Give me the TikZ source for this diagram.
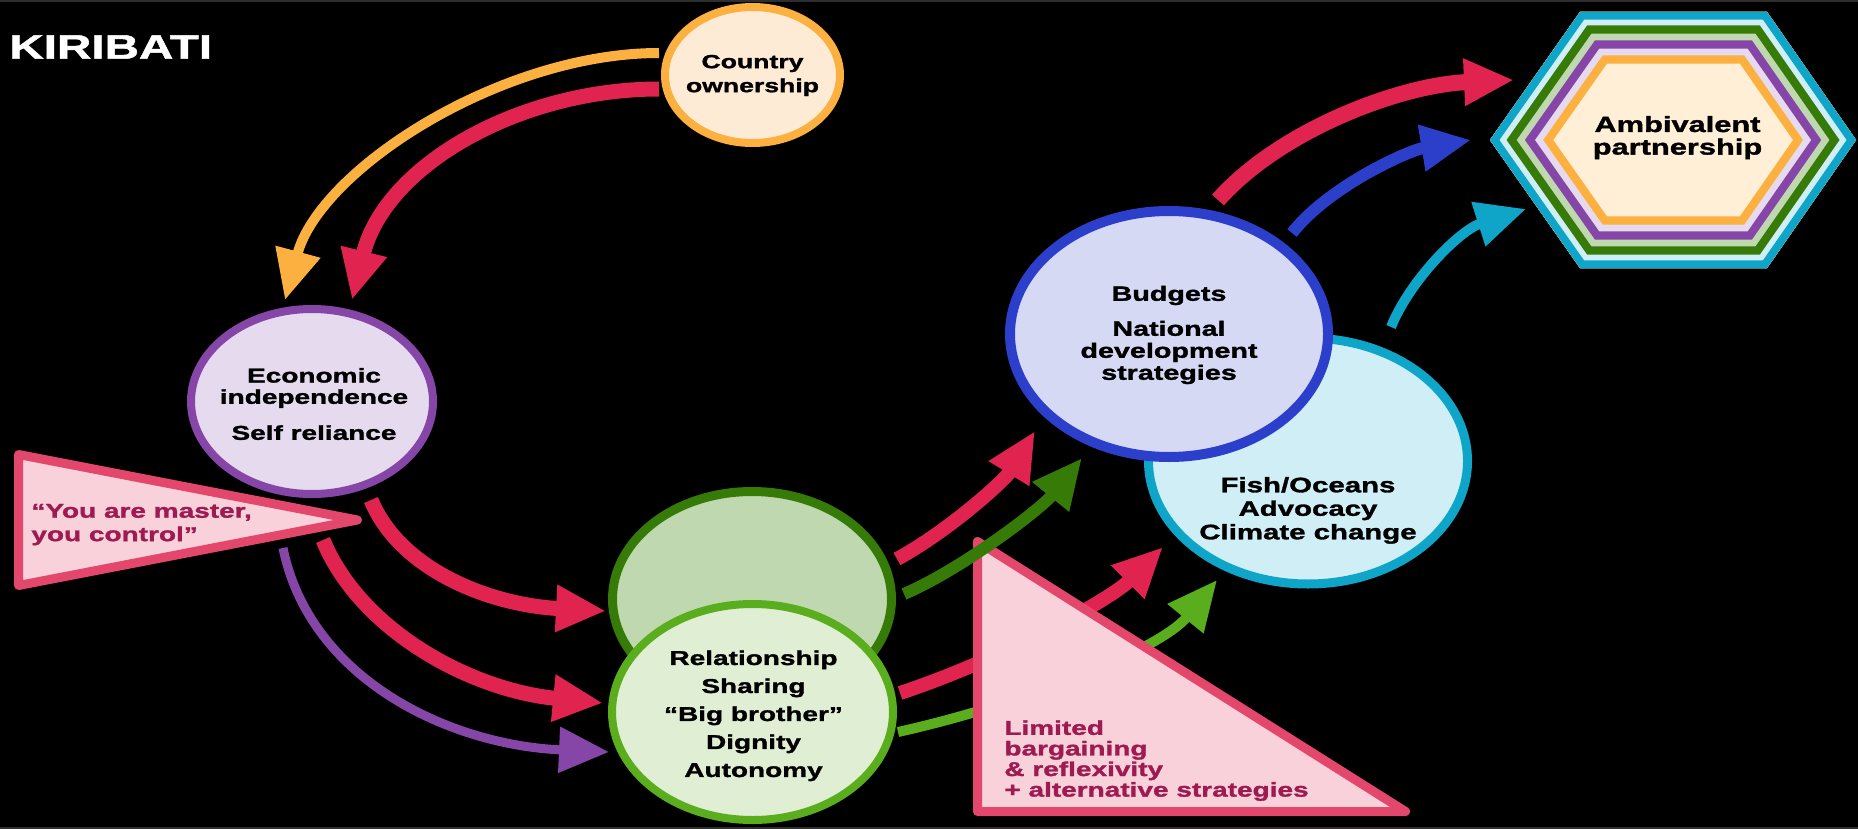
\documentclass[tikz,border=0pt]{standalone}
\usepackage{fontspec}
\setmainfont{Liberation Sans}[FakeStretch=1.4, BoldFeatures={FakeBold=1.5}]
\usetikzlibrary{arrows.meta,shapes.geometric}

\definecolor{ownorange}{HTML}{FBB040}
\definecolor{owncream}{HTML}{FDEBD5}
\definecolor{hexcream}{HTML}{FEEFD6}
\definecolor{crimson}{HTML}{E0234F}
\definecolor{ecopurple}{HTML}{8646A8}
\definecolor{ecolav}{HTML}{E6DAEE}
\definecolor{trifill}{HTML}{F8D1DA}
\definecolor{triline}{HTML}{E3476B}
\definecolor{tritext}{HTML}{9E1B52}
\definecolor{dkgreen}{HTML}{367B07}
\definecolor{dkgreenfill}{HTML}{C0D8AF}
\definecolor{ltgreen}{HTML}{5AAE1D}
\definecolor{ltgreenfill}{HTML}{E0EFD3}
\definecolor{budblue}{HTML}{2B3FCB}
\definecolor{budfill}{HTML}{D5D9F3}
\definecolor{fishcyan}{HTML}{0EA5C9}
\definecolor{fishfill}{HTML}{CFEEF5}
\definecolor{edgegray}{HTML}{2E2E2E}

\begin{document}
\begin{tikzpicture}[x=0.5pt,y=-0.5pt,
    blob/.style={ellipse, draw, inner sep=0pt},
    txt/.style={inner sep=0pt, align=center},
    arr/.style={-{Triangle[length=25pt,width=22pt]}},
    tri/.style={fill=trifill, draw=triline, line width=4.5pt, line join=round}]

  \useasboundingbox (0,0) rectangle (1858,829);
  \fill[black] (0,0) rectangle (1858,829);
  \draw[edgegray, line width=1pt] (0,1) -- (1858,1) (0,828) -- (1858,828);

  % arrow ends
  \coordinate (own-a) at (659,53);   \coordinate (econ-a) at (285,300);
  \coordinate (own-b) at (659,89);   \coordinate (econ-b) at (352,300);
  \coordinate (econ-c) at (371,500); \coordinate (dk-c) at (606,611);
  \coordinate (mas-d) at (323,540);  \coordinate (lt-d) at (603,703);
  \coordinate (mas-e) at (283,548);  \coordinate (lt-e) at (609,752);
  \coordinate (dk-f) at (897,559);   \coordinate (bud-f) at (1035,431);
  \coordinate (dk-g) at (904,594);   \coordinate (bud-g) at (1082,458);
  \coordinate (lt-h) at (900,693);   \coordinate (fish-h) at (1163,547);
  \coordinate (lt-i) at (898,732);   \coordinate (fish-i) at (1217,580);
  \coordinate (bud-j) at (1218,200); \coordinate (hex-j) at (1514,80);
  \coordinate (bud-k) at (1292,233); \coordinate (hex-k) at (1471,140);
  \coordinate (fish-l) at (1391,327);\coordinate (hex-l) at (1526,209);

  \draw[arr, ownorange, line width=5pt] (own-a) .. controls (500,53) and (320,170) .. (econ-a);
  \draw[arr, crimson, line width=7.5pt] (own-b) .. controls (520,89) and (385,165) .. (econ-b);

  \begin{scope}[every node/.style={blob}]
    \node[draw=ownorange, fill=owncream, line width=4pt, minimum width=87.5pt, minimum height=68pt] (own) at (752.5,75) {};
    \node[draw=ecopurple, fill=ecolav, line width=4pt, minimum width=121pt, minimum height=92.5pt] (econ) at (312,401.5) {};
  \end{scope}

  \draw[tri] (18.5,454.5) -- (18.5,585.5) -- (357.5,520) -- cycle;

  \draw[arr, crimson, line width=7.5pt] (econ-c) .. controls (400,570) and (490,605) .. (dk-c);
  \draw[arr, crimson, line width=7.5pt] (mas-d) .. controls (360,630) and (470,690) .. (lt-d);
  \draw[arr, ecopurple, line width=4.5pt] (mas-e) .. controls (310,680) and (450,745) .. (lt-e);

  \begin{scope}[every node/.style={blob}]
    \node[draw=dkgreen, fill=dkgreenfill, line width=4.5pt, minimum width=139.5pt, minimum height=107.5pt] (dk) at (752,599) {};
    \node[draw=ltgreen, fill=ltgreenfill, line width=4pt, minimum width=140.5pt, minimum height=108pt] (lt) at (752.5,712) {};
    \node[draw=fishcyan, fill=fishfill, line width=4.5pt, minimum width=159.5pt, minimum height=123pt] (fish) at (1308,461) {};
    \node[draw=budblue, fill=budfill, line width=5pt, minimum width=159pt, minimum height=123pt] (bud) at (1169,334) {};
  \end{scope}

  \draw[arr, crimson, line width=7pt] (lt-h) .. controls (1000,660) and (1110,600) .. (fish-h);
  \draw[arr, ltgreen, line width=5pt] (lt-i) .. controls (1020,705) and (1160,650) .. (fish-i);

  \draw[tri] (977.5,541.5) -- (977.5,811.5) -- (1405.5,811.5) -- cycle;

  \draw[arr, crimson, line width=7pt] (dk-f) .. controls (950,530) and (1005,480) .. (bud-f);
  \draw[arr, dkgreen, line width=6pt] (dk-g) .. controls (960,570) and (1040,510) .. (bud-g);

  % nested hexagon
  \coordinate (h1) at (1490,140); \coordinate (h2) at (1580,12);  \coordinate (h3) at (1767,12);
  \coordinate (h4) at (1856,140); \coordinate (h5) at (1767,268); \coordinate (h6) at (1580,268);
  \begin{scope}
    \clip (h1) -- (h2) -- (h3) -- (h4) -- (h5) -- (h6) -- cycle;
    \fill[hexcream] (1480,0) rectangle (1858,280);
    \foreach \col/\w in {ownorange/51.7, ecolav/43.4, ecopurple/36.7, dkgreenfill/28.4,
                         dkgreen/21.7, fishfill/13.4, fishcyan/7.7}
      \draw[\col, line width=\w pt, line join=miter] (h1) -- (h2) -- (h3) -- (h4) -- (h5) -- (h6) -- cycle;
  \end{scope}

  \draw[arr, crimson, line width=8pt] (bud-j) .. controls (1280,130) and (1400,85) .. (hex-j);
  \draw[arr, budblue, line width=6pt] (bud-k) .. controls (1330,185) and (1410,150) .. (hex-k);
  \draw[arr, fishcyan, line width=5pt] (fish-l) .. controls (1410,280) and (1460,230) .. (hex-l);

  % texts
  \begin{scope}[every node/.style={txt}]
    \node[anchor=west, text=white, font=\fontsize{17}{20}\selectfont\bfseries] (title) at (9,47) {KIRIBATI};
    \node[font=\fontsize{9.5}{12}\selectfont\bfseries] (own-txt) at (752.5,75.5) {Country\\ownership};
    \node[font=\fontsize{10}{10.65}\selectfont\bfseries] (econ-txt) at (314,404) {Economic\\independence\\[7.35pt]Self reliance};
    \node[font=\fontsize{10}{14}\selectfont\bfseries] (lt-txt) at (753.5,715.8) {Relationship\\Sharing\\“Big brother”\\Dignity\\Autonomy};
    \node[font=\fontsize{10.25}{11}\selectfont\bfseries] (bud-txt) at (1169,335) {Budgets\\[6.5pt]National\\development\\strategies};
    \node[font=\fontsize{10.5}{11.75}\selectfont\bfseries] (fish-txt) at (1308,510.4) {Fish/Oceans\\Advocacy\\Climate change};
    \node[font=\fontsize{11}{11.3}\selectfont\bfseries] (hex-txt) at (1677.5,137.6) {Ambivalent\\partnership};
    \node[anchor=west, align=left, text=tritext, font=\fontsize{10}{11.7}\selectfont\bfseries] (mas-txt) at (31,524.6) {“You are master,\\you control”};
    \node[anchor=west, align=left, text=tritext, font=\fontsize{10}{10.3}\selectfont\bfseries] (lim-txt) at (1004,760.6) {Limited\\bargaining\\\& reflexivity\\+ alternative strategies};
  \end{scope}

\end{tikzpicture}
\end{document}
